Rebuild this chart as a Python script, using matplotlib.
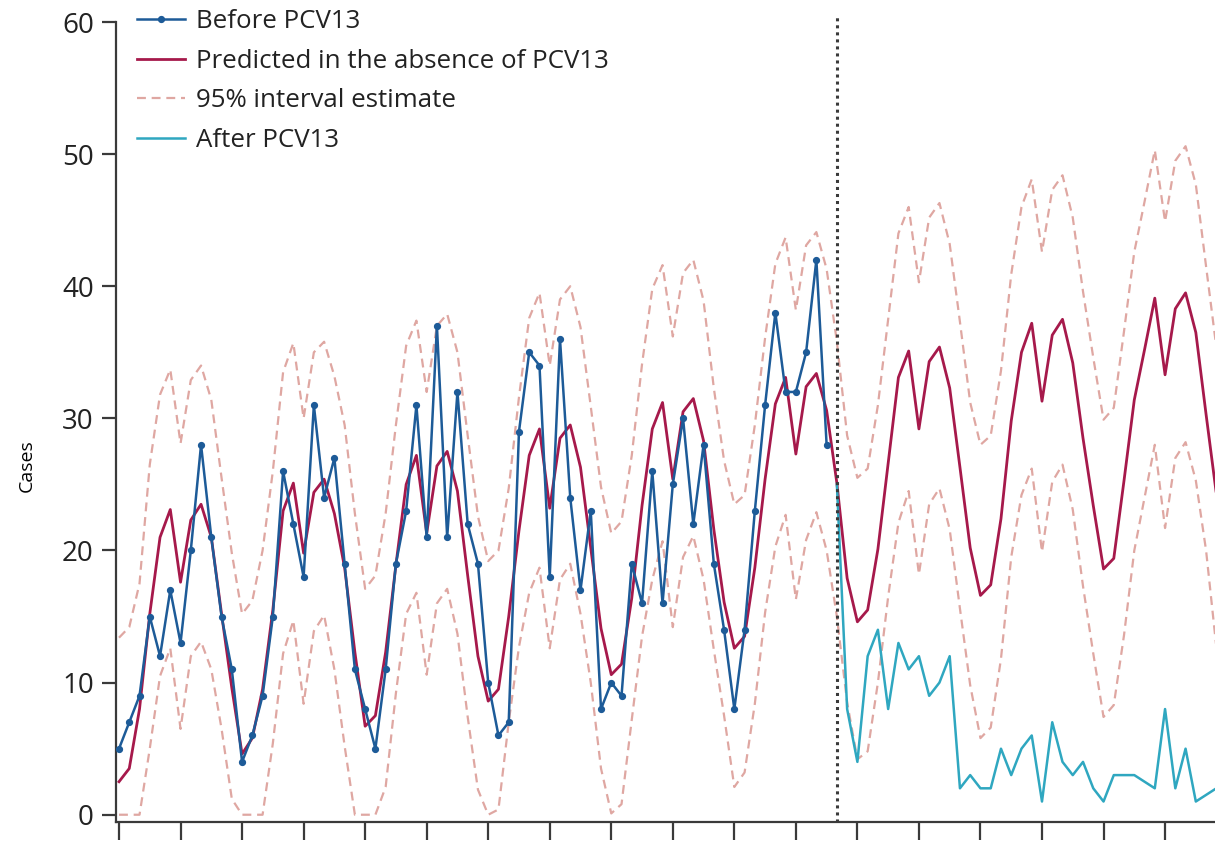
import matplotlib
matplotlib.use("Agg")
import matplotlib.pyplot as plt
from matplotlib.lines import Line2D

plt.rcParams['font.family'] = ['Open Sans', 'DejaVu Sans']

# monthly index, blue series before PCV13 (idx 0-69)
before_cases = [5, 7, 9, 15, 12, 17, 13, 20, 28, 21, 15, 11,
                4, 6, 9, 15, 26, 22, 18, 31, 24, 27, 19, 11,
                8, 5, 11, 19, 23, 31, 21, 37, 21, 32, 22, 19,
                10, 6, 7, 29, 35, 34, 18, 36, 24, 17, 23, 8,
                10, 9, 19, 16, 26, 16, 25, 30, 22, 28, 19, 14,
                8, 14, 23, 31, 38, 32, 32, 35, 42, 28]

# after PCV13 (idx 70-107)
after_cases = [25, 8, 4, 12, 14, 8, 13, 11, 12, 9, 10, 12,
               2, 3, 2, 2, 5, 3, 5, 6, 1, 7, 4, 3,
               4, 2, 1, 3, 3, 3, 2.5, 2, 8, 2, 5, 1,
               1.5, 2]

predicted = [2.5, 3.5, 8.0, 15.2, 21.0, 23.1, 17.6, 22.3, 23.5, 21.0, 15.2, 9.6,
             4.6, 5.8, 9.5, 15.5, 23.0, 25.1, 19.8, 24.4, 25.4, 22.8, 18.7, 12.3,
             6.7, 7.5, 12.3, 18.9, 25.0, 27.2, 21.3, 26.4, 27.5, 24.5, 18.1, 12.0,
             8.6, 9.5, 15.0, 21.5, 27.2, 29.2, 23.2, 28.5, 29.5, 26.3, 20.2, 14.1,
             10.6, 11.4, 16.4, 23.4, 29.2, 31.2, 25.4, 30.5, 31.5, 28.3, 21.6, 16.1,
             12.6, 13.5, 18.7, 25.4, 31.1, 33.1, 27.3, 32.4, 33.4, 30.6, 25.1, 17.9,
             14.6, 15.5, 20.1, 26.6, 33.1, 35.1, 29.2, 34.3, 35.4, 32.3, 26.3, 20.2,
             16.6, 17.4, 22.4, 29.8, 35.0, 37.2, 31.3, 36.3, 37.5, 34.2, 28.5, 23.4,
             18.6, 19.4, 25.3, 31.4, 35.2, 39.1, 33.3, 38.3, 39.5, 36.5, 30.3, 24.3]

upper_95 = [13.4, 14.2, 17.5, 26.5, 31.8, 33.7, 28.1, 32.9, 34.0, 31.4, 25.5, 19.8,
            15.2, 16.2, 20.0, 26.0, 33.5, 35.7, 30.0, 35.0, 35.8, 33.2, 29.5, 22.8,
            17.1, 18.1, 22.8, 29.5, 35.5, 37.4, 32.0, 37.0, 37.9, 35.0, 28.7, 22.6,
            19.2, 20.0, 24.7, 31.6, 37.6, 39.5, 34.0, 39.0, 40.0, 36.9, 30.9, 24.8,
            21.3, 22.2, 27.2, 34.1, 39.8, 41.6, 36.2, 41.0, 42.0, 38.9, 32.3, 26.8,
            23.5, 24.2, 29.5, 36.1, 41.7, 43.7, 38.2, 43.1, 44.1, 41.3, 35.8, 28.7,
            25.5, 26.2, 31.0, 37.5, 44.0, 46.0, 40.3, 45.2, 46.3, 43.2, 37.3, 31.2,
            28.0, 28.7, 33.6, 40.9, 46.0, 48.1, 42.6, 47.3, 48.4, 45.2, 39.6, 34.6,
            29.9, 30.8, 36.6, 42.6, 46.4, 50.3, 44.9, 49.5, 50.6, 47.7, 41.5, 35.4]

lower_95 = [0, 0, 0, 5.0, 10.5, 12.6, 6.5, 12.0, 13.1, 11.0, 6.5, 1.2,
            0, 0, 0, 5.4, 12.2, 14.7, 8.4, 13.9, 15.1, 11.0, 5.2, 0,
            0, 0, 2.1, 9.2, 15.2, 16.8, 10.6, 16.0, 17.1, 13.7, 7.4, 1.9,
            0, 0.4, 7.0, 12.7, 16.8, 18.7, 12.6, 17.8, 19.0, 15.2, 10.0, 3.5,
            0.1, 0.8, 7.2, 13.5, 17.8, 20.7, 14.2, 19.5, 21.1, 17.8, 12.5, 7.5,
            2.1, 3.2, 8.4, 15.3, 20.3, 22.7, 16.3, 20.8, 22.9, 20.0, 15.0, 8.5,
            4.2, 4.8, 10.0, 16.5, 22.1, 24.5, 18.2, 23.5, 24.7, 21.6, 15.6, 9.8,
            5.8, 6.6, 11.8, 19.5, 24.2, 26.2, 19.9, 25.2, 26.5, 23.1, 17.3, 12.2,
            7.4, 8.3, 13.6, 20.0, 24.0, 28.0, 21.7, 27.0, 28.2, 25.3, 20.0, 12.7]

intro_month = 70

x_before = list(range(len(before_cases)))
x_after = list(range(intro_month, intro_month + len(after_cases)))
x_pred = list(range(len(predicted)))

blue = '#1d5b98'
crimson = '#a6194b'
pink = '#dfa7a2'
teal = '#2fa7c0'
axis_grey = '#3a3a3a'

fig = plt.figure(figsize=(12.15, 8.42), dpi=100)
ax = fig.add_axes([0.0955, 0.02375, 0.9045, 0.9501])

# interval bounds, prediction, then observed series on top
ax.plot(x_pred, upper_95, color=pink, lw=1.6, dashes=(4, 2.6), zorder=2)
ax.plot(x_pred, lower_95, color=pink, lw=1.6, dashes=(4, 2.6), zorder=2)
ax.plot(x_pred, predicted, color=crimson, lw=2.0, zorder=3)
ax.plot(x_after, after_cases, color=teal, lw=1.8, zorder=4)
ax.plot(x_before, before_cases, color=blue, lw=1.8, marker='o', ms=4.2, zorder=5)

# vaccine introduction
ax.axvline(intro_month, ymin=0, ymax=1.01, color=axis_grey, lw=2.2,
           linestyle=(0, (1, 1.3)), clip_on=False, zorder=6)

ax.set_xlim(-0.29, 106.87)
ax.set_ylim(-0.55, 60)
ax.set_yticks([0, 10, 20, 30, 40, 50, 60])
ax.set_xticks(list(range(0, 107, 6)))
ax.set_xticklabels([])
ax.set_ylabel('Cases', fontsize=14)
ax.yaxis.set_label_coords(-0.073, 0.445)

for side in ('top', 'right'):
    ax.spines[side].set_visible(False)
for side in ('left', 'bottom'):
    ax.spines[side].set_color(axis_grey)
    ax.spines[side].set_linewidth(1.6)
ax.spines['left'].set_bounds(-0.55, 60)

ax.tick_params(axis='y', direction='out', length=10, width=1.6, color=axis_grey,
               labelsize=20, pad=6, labelcolor='#222222')
ax.tick_params(axis='x', direction='out', length=13, width=1.6, color=axis_grey)

handles = [
    Line2D([], [], color=blue, lw=1.8, marker='o', ms=4.2),
    Line2D([], [], color=crimson, lw=2.0),
    Line2D([], [], color=pink, lw=1.6, dashes=(4, 2.6)),
    Line2D([], [], color=teal, lw=1.8),
]
labels = ['Before PCV13', 'Predicted in the absence of PCV13',
          '95% interval estimate', 'After PCV13']
leg = ax.legend(handles, labels, loc='upper left', bbox_to_anchor=(0.0, 1.042),
                frameon=False, fontsize=18.6, handlelength=1.86, handletextpad=0.43,
                labelspacing=0.56, borderaxespad=0.41)
for t in leg.get_texts():
    t.set_color('#222222')

fig.savefig('out.png', dpi=100)
